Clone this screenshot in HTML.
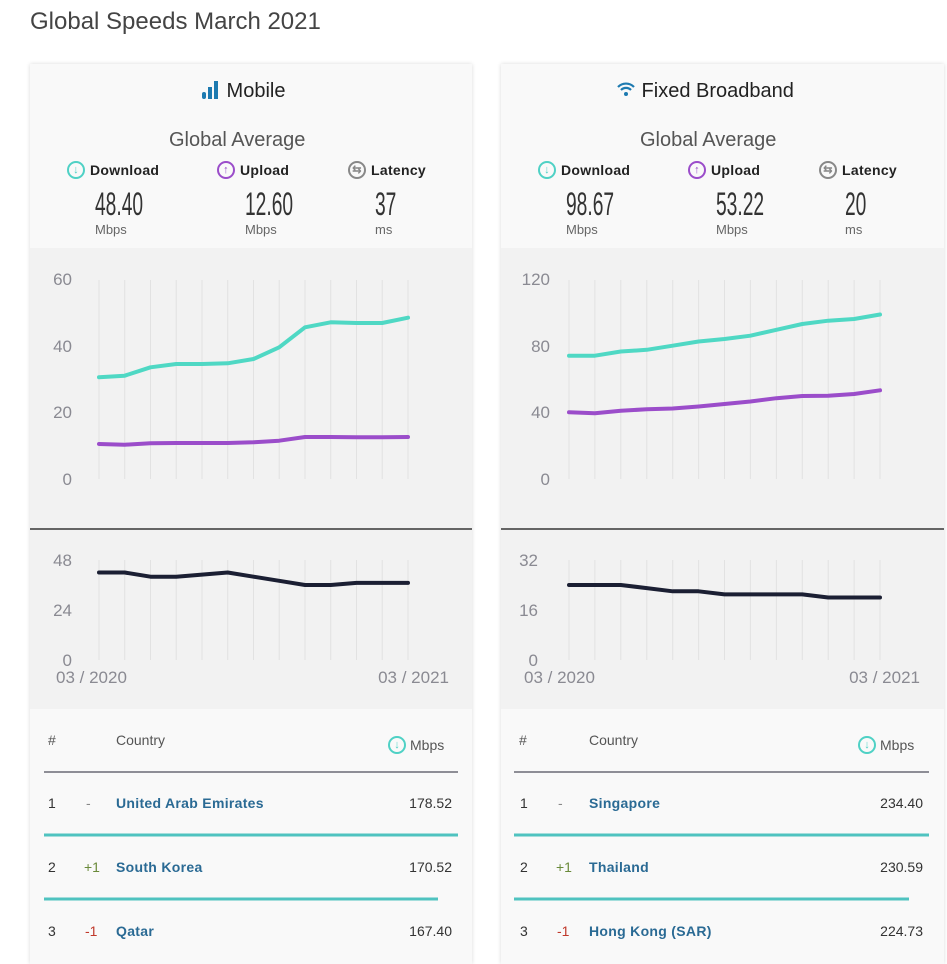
<!DOCTYPE html>
<html><head><meta charset="utf-8"><style>
*{margin:0;padding:0;box-sizing:border-box}
body{width:947px;height:947px;background:#fff;position:relative;overflow:hidden;font-family:"Liberation Sans",sans-serif;color:#333}
.a{position:absolute;white-space:nowrap}
.card{position:absolute;top:64px;height:900px;background:#f9f9f9;box-shadow:0 0 4px rgba(0,0,0,.15)}
.gray{position:absolute;left:0;right:0;top:184px;height:461px;background:#f2f2f2}
.ttl{font-size:20px;color:#222}
.ga{font-size:20px;color:#555}
.lab{font-size:14px;color:#222;font-weight:bold;letter-spacing:.3px;display:flex;align-items:center}
.num{font-size:32px;color:#333;transform:scaleX(.6);transform-origin:left top;font-weight:normal}
.unit{font-size:13px;color:#666}
.ic{display:inline-block;width:18px;height:18px;border-radius:50%;border:2px solid;text-align:center;font-size:11px;line-height:14px;margin-right:5px;font-weight:bold}
.th{font-size:14px;color:#555;display:flex;align-items:center}
.rk{font-size:14px;color:#333}
.cn{font-size:14px;color:#2a6a94;font-weight:bold;letter-spacing:.3px}
.val{font-size:14px;color:#333;text-align:right;width:80px}
</style></head><body>
<div class="a" style="left:30px;top:8px;font-size:24px;color:#444">Global Speeds March 2021</div>

<div class="card" style="left:30px;width:442px"><div class="gray"></div></div>
<div class="card" style="left:501px;width:443px"><div class="gray"></div></div>

<div class="a ttl" style="left:201px;top:80px"><span style="display:inline-block;width:20px;height:18px;position:relative;vertical-align:-2px"><i style="position:absolute;left:1px;bottom:0;width:4px;height:7px;background:#1d7ab0;border-radius:2px"></i><i style="position:absolute;left:7px;bottom:0;width:4px;height:12px;background:#1d7ab0"></i><i style="position:absolute;left:13px;bottom:0;width:4px;height:18px;background:#1d7ab0"></i></span> Mobile</div>
<div class="a ga" style="left:169px;top:129px">Global Average</div>
<div class="a lab" style="left:67px;top:161px"><span class="ic" style="border-color:#4fd1c5;color:#4fd1c5">↓</span>Download</div>
<div class="a lab" style="left:217px;top:161px"><span class="ic" style="border-color:#9b4dca;color:#9b4dca">↑</span>Upload</div>
<div class="a lab" style="left:348px;top:161px"><span class="ic" style="border-color:#888;color:#888">⇆</span>Latency</div>
<div class="a num" style="left:95px;top:186px">48.40</div>
<div class="a num" style="left:245px;top:186px">12.60</div>
<div class="a num" style="left:375px;top:186px">37</div>
<div class="a unit" style="left:95px;top:222px">Mbps</div>
<div class="a unit" style="left:245px;top:222px">Mbps</div>
<div class="a unit" style="left:375px;top:222px">ms</div>

<div class="a ttl" style="left:616px;top:80px"><svg width="20" height="16" viewBox="0 0 20 16" style="vertical-align:0"><path d="M2 6a11 11 0 0 1 16 0M5 9a7 7 0 0 1 10 0" stroke="#1d7ab0" stroke-width="2.2" fill="none"/><circle cx="10" cy="13" r="2" fill="#1d7ab0"/></svg> Fixed Broadband</div>
<div class="a ga" style="left:640px;top:129px">Global Average</div>
<div class="a lab" style="left:538px;top:161px"><span class="ic" style="border-color:#4fd1c5;color:#4fd1c5">↓</span>Download</div>
<div class="a lab" style="left:688px;top:161px"><span class="ic" style="border-color:#9b4dca;color:#9b4dca">↑</span>Upload</div>
<div class="a lab" style="left:819px;top:161px"><span class="ic" style="border-color:#888;color:#888">⇆</span>Latency</div>
<div class="a num" style="left:566px;top:186px">98.67</div>
<div class="a num" style="left:716px;top:186px">53.22</div>
<div class="a num" style="left:845px;top:186px">20</div>
<div class="a unit" style="left:566px;top:222px">Mbps</div>
<div class="a unit" style="left:716px;top:222px">Mbps</div>
<div class="a unit" style="left:845px;top:222px">ms</div>

<svg class="a" style="left:0;top:0" width="947" height="947" font-family="Liberation Sans, sans-serif">
<g stroke="#e2e2e2" stroke-width="1">
<path d="M99 280V479M124.7 280V479M150.5 280V479M176.2 280V479M202 280V479M227.7 280V479M253.5 280V479M279.2 280V479M305 280V479M330.7 280V479M356.5 280V479M382.2 280V479M408 280V479"/>
<path d="M99 560V660M124.7 560V660M150.5 560V660M176.2 560V660M202 560V660M227.7 560V660M253.5 560V660M279.2 560V660M305 560V660M330.7 560V660M356.5 560V660M382.2 560V660M408 560V660"/>
<path d="M569 280V479M594.9 280V479M620.8 280V479M646.8 280V479M672.7 280V479M698.6 280V479M724.5 280V479M750.4 280V479M776.4 280V479M802.3 280V479M828.2 280V479M854.1 280V479M880 280V479"/>
<path d="M569 560V660M594.9 560V660M620.8 560V660M646.8 560V660M672.7 560V660M698.6 560V660M724.5 560V660M750.4 560V660M776.4 560V660M802.3 560V660M828.2 560V660M854.1 560V660M880 560V660"/>
</g>
<line x1="30" y1="529" x2="472" y2="529" stroke="#111" stroke-width="1.3"/>
<line x1="501" y1="529" x2="944" y2="529" stroke="#111" stroke-width="1.3"/>
<g fill="#8a8a92" font-size="17">
<text x="72" y="285" text-anchor="end">60</text><text x="72" y="352" text-anchor="end">40</text><text x="72" y="418" text-anchor="end">20</text><text x="72" y="485" text-anchor="end">0</text>
<text x="72" y="566" text-anchor="end">48</text><text x="72" y="616" text-anchor="end">24</text><text x="72" y="666" text-anchor="end">0</text>
<text x="56" y="683">03 / 2020</text><text x="449" y="683" text-anchor="end">03 / 2021</text>
<text x="550" y="285" text-anchor="end">120</text><text x="550" y="352" text-anchor="end">80</text><text x="550" y="418" text-anchor="end">40</text><text x="550" y="485" text-anchor="end">0</text>
<text x="538" y="566" text-anchor="end">32</text><text x="538" y="616" text-anchor="end">16</text><text x="538" y="666" text-anchor="end">0</text>
<text x="524" y="683">03 / 2020</text><text x="920" y="683" text-anchor="end">03 / 2021</text>
</g>
<g fill="none" stroke-width="4" stroke-linejoin="round" stroke-linecap="round">
<polyline stroke="#4fd8c4" points="99,377.3 124.7,375.7 150.5,367.3 176.2,364 202,364 227.7,363.3 253.5,359 279.2,347.3 305,327.3 330.7,322.3 356.5,323 382.2,323 408,317.7"/>
<polyline stroke="#9b4dca" points="99,444 124.7,444.7 150.5,443.3 176.2,443 202,443 227.7,443 253.5,442.3 279.2,440.7 305,437 330.7,437 356.5,437.3 382.2,437.3 408,437"/>
<polyline stroke="#1b1f33" points="99,572.5 124.7,572.5 150.5,576.7 176.2,576.7 202,574.6 227.7,572.5 253.5,576.7 279.2,580.8 305,585 330.7,585 356.5,582.9 382.2,582.9 408,582.9"/>
<polyline stroke="#4fd8c4" points="569,355.7 594.9,355.7 620.8,351.5 646.8,349.8 672.7,345.7 698.6,341.5 724.5,339 750.4,335.7 776.4,329.8 802.3,324 828.2,320.7 854.1,319 880,314.5"/>
<polyline stroke="#9b4dca" points="569,412.3 594.9,413.2 620.8,410.7 646.8,409.3 672.7,408.5 698.6,406.5 724.5,404 750.4,401.5 776.4,398.2 802.3,396 828.2,395.7 854.1,394 880,390.3"/>
<polyline stroke="#1b1f33" points="569,585 594.9,585 620.8,585 646.8,588.1 672.7,591.3 698.6,591.3 724.5,594.4 750.4,594.4 776.4,594.4 802.3,594.4 828.2,597.5 854.1,597.5 880,597.5"/>
</g>
<g>
<line x1="44" y1="772" x2="458" y2="772" stroke="#8e8e96" stroke-width="2"/>
<line x1="44" y1="835" x2="458" y2="835" stroke="#4fc3c0" stroke-width="3"/>
<line x1="44" y1="899" x2="438" y2="899" stroke="#4fc3c0" stroke-width="3"/>
<line x1="514" y1="772" x2="929" y2="772" stroke="#8e8e96" stroke-width="2"/>
<line x1="514" y1="835" x2="929" y2="835" stroke="#4fc3c0" stroke-width="3"/>
<line x1="514" y1="899" x2="909" y2="899" stroke="#4fc3c0" stroke-width="3"/>
</g>
</svg>

<div class="a th" style="left:48px;top:732px">#</div>
<div class="a th" style="left:116px;top:732px">Country</div>
<div class="a th" style="left:388px;top:736px"><span class="ic" style="border-color:#4fd1c5;color:#4fd1c5;margin-right:4px">↓</span>Mbps</div>
<div class="a rk" style="left:48px;top:795px">1</div><div class="a rk" style="left:86px;top:795px;color:#888">-</div>
<div class="a cn" style="left:116px;top:795px">United Arab Emirates</div><div class="a val" style="left:372px;top:795px">178.52</div>
<div class="a rk" style="left:48px;top:859px">2</div><div class="a rk" style="left:84px;top:859px;color:#6a8a3a">+1</div>
<div class="a cn" style="left:116px;top:859px">South Korea</div><div class="a val" style="left:372px;top:859px">170.52</div>
<div class="a rk" style="left:48px;top:923px">3</div><div class="a rk" style="left:85px;top:923px;color:#c0392b">-1</div>
<div class="a cn" style="left:116px;top:923px">Qatar</div><div class="a val" style="left:372px;top:923px">167.40</div>

<div class="a th" style="left:519px;top:732px">#</div>
<div class="a th" style="left:589px;top:732px">Country</div>
<div class="a th" style="left:858px;top:736px"><span class="ic" style="border-color:#4fd1c5;color:#4fd1c5;margin-right:4px">↓</span>Mbps</div>
<div class="a rk" style="left:520px;top:795px">1</div><div class="a rk" style="left:558px;top:795px;color:#888">-</div>
<div class="a cn" style="left:589px;top:795px">Singapore</div><div class="a val" style="left:843px;top:795px">234.40</div>
<div class="a rk" style="left:520px;top:859px">2</div><div class="a rk" style="left:556px;top:859px;color:#6a8a3a">+1</div>
<div class="a cn" style="left:589px;top:859px">Thailand</div><div class="a val" style="left:843px;top:859px">230.59</div>
<div class="a rk" style="left:520px;top:923px">3</div><div class="a rk" style="left:557px;top:923px;color:#c0392b">-1</div>
<div class="a cn" style="left:589px;top:923px">Hong Kong (SAR)</div><div class="a val" style="left:843px;top:923px">224.73</div>
</body></html>
